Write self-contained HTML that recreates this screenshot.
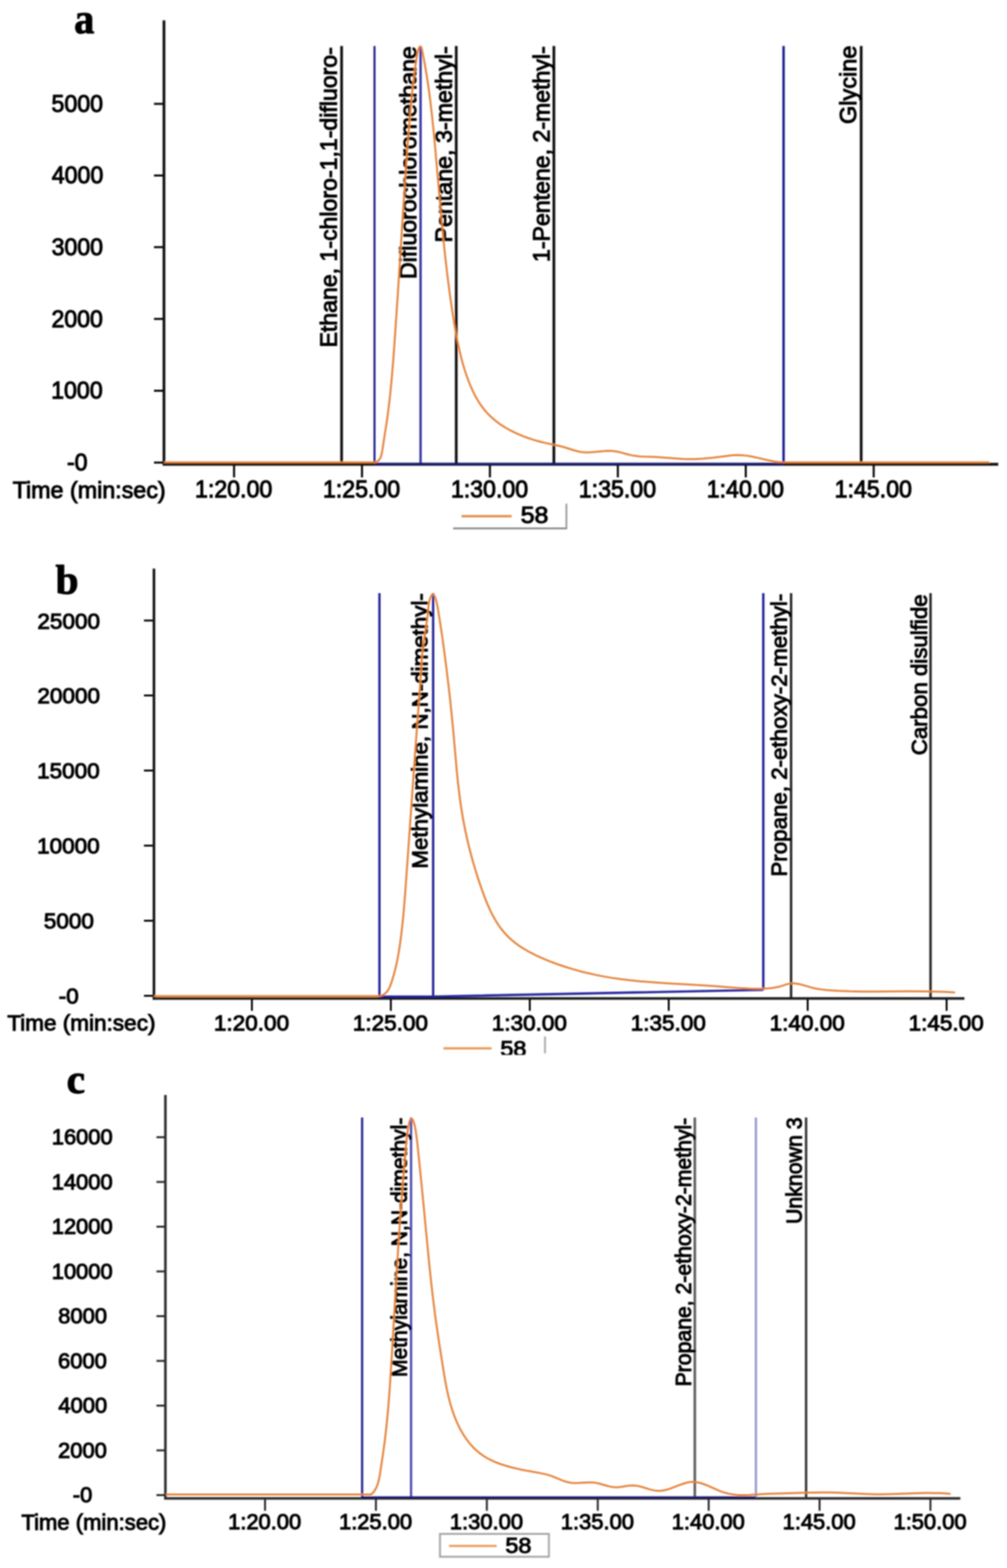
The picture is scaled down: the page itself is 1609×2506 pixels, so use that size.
<!DOCTYPE html>
<html><head><meta charset="utf-8"><title>Chromatograms</title>
<style>html,body{margin:0;padding:0;background:#fff;}svg{display:block} text{stroke:#000;stroke-width:1.5px}</style></head>
<body><svg width="1609" height="2506" viewBox="0 0 1609 2506" style="font-family:&quot;Liberation Sans&quot;,Arial,sans-serif">
<defs><clipPath id="clipb"><rect x="0" y="1600" width="1609" height="86"/></clipPath>
<filter id="soft" x="0" y="0" width="1609" height="2506" filterUnits="userSpaceOnUse"><feGaussianBlur stdDeviation="0.8"/></filter></defs>
<rect width="1609" height="2506" fill="#fff"/>
<g filter="url(#soft)">
<line x1="246" y1="166" x2="262" y2="166" stroke="#000" stroke-width="3.2" />
<text x="82.34" y="178.80" font-size="38" textLength="82.31" lengthAdjust="spacingAndGlyphs" fill="#000" >5000</text>
<line x1="246" y1="280.5" x2="262" y2="280.5" stroke="#000" stroke-width="3.2" />
<text x="82.66" y="293.30" font-size="38" textLength="82.31" lengthAdjust="spacingAndGlyphs" fill="#000" >4000</text>
<line x1="246" y1="395" x2="262" y2="395" stroke="#000" stroke-width="3.2" />
<text x="82.38" y="407.80" font-size="38" textLength="82.31" lengthAdjust="spacingAndGlyphs" fill="#000" >3000</text>
<line x1="246" y1="509.7" x2="262" y2="509.7" stroke="#000" stroke-width="3.2" />
<text x="82.15" y="522.50" font-size="38" textLength="82.31" lengthAdjust="spacingAndGlyphs" fill="#000" >2000</text>
<line x1="246" y1="624.5" x2="262" y2="624.5" stroke="#000" stroke-width="3.2" />
<text x="81.69" y="637.30" font-size="38" textLength="82.31" lengthAdjust="spacingAndGlyphs" fill="#000" >1000</text>
<line x1="246" y1="739.3" x2="262" y2="739.3" stroke="#000" stroke-width="3.2" />
<text x="106.94" y="752.10" font-size="38" textLength="32.90" lengthAdjust="spacingAndGlyphs" fill="#000" >-0</text>
<line x1="374.0" y1="742" x2="374.0" y2="763" stroke="#000" stroke-width="3.2" />
<text x="311.61" y="795.30" font-size="38" textLength="123.45" lengthAdjust="spacingAndGlyphs" fill="#000" >1:20.00</text>
<line x1="578.4" y1="742" x2="578.4" y2="763" stroke="#000" stroke-width="3.2" />
<text x="516.01" y="795.30" font-size="38" textLength="123.45" lengthAdjust="spacingAndGlyphs" fill="#000" >1:25.00</text>
<line x1="782.8" y1="742" x2="782.8" y2="763" stroke="#000" stroke-width="3.2" />
<text x="720.41" y="795.30" font-size="38" textLength="123.45" lengthAdjust="spacingAndGlyphs" fill="#000" >1:30.00</text>
<line x1="987.2" y1="742" x2="987.2" y2="763" stroke="#000" stroke-width="3.2" />
<text x="924.81" y="795.30" font-size="38" textLength="123.45" lengthAdjust="spacingAndGlyphs" fill="#000" >1:35.00</text>
<line x1="1191.6" y1="742" x2="1191.6" y2="763" stroke="#000" stroke-width="3.2" />
<text x="1129.21" y="795.30" font-size="38" textLength="123.45" lengthAdjust="spacingAndGlyphs" fill="#000" >1:40.00</text>
<line x1="1396.0" y1="742" x2="1396.0" y2="763" stroke="#000" stroke-width="3.2" />
<text x="1333.61" y="795.30" font-size="38" textLength="123.45" lengthAdjust="spacingAndGlyphs" fill="#000" >1:45.00</text>
<text x="20.16" y="796.00" font-size="37" textLength="244.55" lengthAdjust="spacingAndGlyphs" fill="#000" >Time (min:sec)</text>
<line x1="545.8" y1="73.5" x2="545.8" y2="742" stroke="#111" stroke-width="4.3" />
<line x1="729" y1="73.5" x2="729" y2="742" stroke="#111" stroke-width="4.3" />
<line x1="885" y1="73.5" x2="885" y2="742" stroke="#111" stroke-width="4.3" />
<line x1="1376" y1="73.5" x2="1376" y2="742" stroke="#111" stroke-width="4.3" />
<line x1="598.4" y1="73.5" x2="598.4" y2="742" stroke="#1e1e88" stroke-width="3.2" />
<line x1="672" y1="73.5" x2="672" y2="742" stroke="#3636a6" stroke-width="3.8" />
<line x1="1252" y1="73.5" x2="1252" y2="742" stroke="#1e1e94" stroke-width="3.9" />
<line x1="262" y1="32.5" x2="262" y2="744" stroke="#111" stroke-width="4.3" />
<line x1="260" y1="742" x2="1595" y2="742" stroke="#111" stroke-width="4.3" />
<line x1="598" y1="741.5" x2="1252" y2="741.5" stroke="#14146e" stroke-width="3.5" />
<text transform="translate(538.20,555.34) rotate(-90)" x="0" y="0" font-size="37" textLength="479.90" lengthAdjust="spacingAndGlyphs" fill="#000">Ethane, 1-chloro-1,1-difluoro-</text>
<text transform="translate(664.60,446.05) rotate(-90)" x="0" y="0" font-size="37" textLength="372.17" lengthAdjust="spacingAndGlyphs" fill="#000">Difluorochloromethane</text>
<text transform="translate(721.50,387.56) rotate(-90)" x="0" y="0" font-size="37" textLength="313.70" lengthAdjust="spacingAndGlyphs" fill="#000">Pentane, 3-methyl-</text>
<text transform="translate(878.00,418.77) rotate(-90)" x="0" y="0" font-size="37" textLength="344.86" lengthAdjust="spacingAndGlyphs" fill="#000">1-Pentene, 2-methyl-</text>
<text transform="translate(1367.80,198.28) rotate(-90)" x="0" y="0" font-size="37" textLength="125.46" lengthAdjust="spacingAndGlyphs" fill="#000">Glycine</text>
<path d="M262.00,739.00 L599.50,739.00 L601.42,738.30 L603.09,737.38 L604.54,736.25 L606.06,734.60 L607.30,732.70 L608.30,730.58 L609.10,728.30 L609.85,725.39 L610.78,720.28 L618.29,671.86 L620.74,653.66 L623.05,633.86 L624.87,615.97 L626.63,596.52 L628.36,575.04 L630.31,548.54 L635.33,474.70 L644.26,334.66 L648.01,277.63 L651.55,228.08 L654.89,186.81 L657.33,160.24 L659.58,138.21 L661.77,119.75 L664.22,102.06 L666.75,86.17 L667.97,80.35 L668.84,77.69 L669.72,75.92 L670.72,74.70 L671.34,74.31 L671.73,74.23 L672.28,74.40 L672.91,75.17 L673.45,76.45 L673.92,78.10 L676.12,88.74 L678.62,101.94 L681.08,116.17 L683.41,130.95 L685.60,146.25 L687.72,162.60 L690.59,187.43 L693.36,214.82 L695.88,242.25 L704.96,345.94 L708.15,379.27 L711.32,409.58 L715.19,442.81 L719.21,473.51 L723.58,503.16 L728.09,530.28 L730.30,542.08 L732.50,552.85 L734.81,563.10 L737.22,572.81 L739.72,581.99 L742.46,591.12 L745.30,599.72 L748.39,608.26 L751.37,615.76 L754.61,623.14 L757.90,629.92 L761.21,636.08 L764.77,642.07 L768.60,647.84 L772.41,653.00 L776.48,657.93 L781.51,663.32 L787.26,668.71 L793.37,673.75 L799.79,678.43 L806.50,682.78 L813.91,687.05 L821.56,690.96 L829.87,694.73 L836.46,697.40 L843.62,700.03 L850.84,702.42 L858.09,704.57 L864.39,706.26 L871.16,707.90 L889.34,711.70 L896.02,713.25 L902.25,714.99 L918.24,720.03 L923.14,721.31 L927.56,722.20 L930.52,722.61 L933.99,722.91 L940.94,722.98 L947.92,722.57 L961.88,721.18 L967.36,720.76 L973.31,720.57 L978.25,720.74 L982.67,721.22 L987.07,722.01 L991.94,723.15 L1003.15,726.19 L1008.03,727.40 L1012.94,728.36 L1018.37,729.10 L1022.83,729.52 L1028.30,729.85 L1046.26,730.35 L1053.24,730.68 L1083.53,733.09 L1090.49,733.51 L1096.95,733.73 L1103.43,733.78 L1109.92,733.66 L1123.40,732.96 L1131.38,732.29 L1139.35,731.45 L1161.17,728.65 L1168.58,727.84 L1176.96,727.33 L1184.34,727.40 L1192.21,728.13 L1200.57,729.50 L1208.43,731.16 L1227.11,735.55 L1236.46,737.41 L1244.35,738.51 L1248.30,738.85 L1252.00,739.00 L1581.00,739.00" fill="none" stroke="#e47f34" stroke-width="3" stroke-linejoin="round"/>
<line x1="737.5" y1="825" x2="817.5" y2="825" stroke="#e4853a" stroke-width="3.5" />
<text x="831.90" y="836.00" font-size="37" textLength="44.39" lengthAdjust="spacingAndGlyphs" fill="#000" >58</text>
<line x1="905" y1="805" x2="905" y2="846" stroke="#8c8c8c" stroke-width="2.5" />
<line x1="724" y1="844.5" x2="906" y2="844.5" stroke="#8c8c8c" stroke-width="3" />
<text transform="translate(118.5,53.4) scale(0.94,1)" x="0" y="0" font-family="&quot;Liberation Serif&quot;,serif" font-weight="bold" font-size="68.5">a</text>
<line x1="230" y1="991.75" x2="246" y2="991.75" stroke="#000" stroke-width="3" />
<text x="59.73" y="1004.50" font-size="35" textLength="100.11" lengthAdjust="spacingAndGlyphs" fill="#000" >25000</text>
<line x1="230" y1="1111.5" x2="246" y2="1111.5" stroke="#000" stroke-width="3" />
<text x="59.73" y="1124.25" font-size="35" textLength="100.11" lengthAdjust="spacingAndGlyphs" fill="#000" >20000</text>
<line x1="230" y1="1231.5" x2="246" y2="1231.5" stroke="#000" stroke-width="3" />
<text x="59.28" y="1244.25" font-size="35" textLength="100.11" lengthAdjust="spacingAndGlyphs" fill="#000" >15000</text>
<line x1="230" y1="1351.5" x2="246" y2="1351.5" stroke="#000" stroke-width="3" />
<text x="59.28" y="1364.25" font-size="35" textLength="100.11" lengthAdjust="spacingAndGlyphs" fill="#000" >10000</text>
<line x1="230" y1="1471.5" x2="246" y2="1471.5" stroke="#000" stroke-width="3" />
<text x="69.95" y="1484.25" font-size="35" textLength="80.09" lengthAdjust="spacingAndGlyphs" fill="#000" >5000</text>
<line x1="230" y1="1591.5" x2="246" y2="1591.5" stroke="#000" stroke-width="3" />
<text x="93.89" y="1604.25" font-size="35" textLength="32.01" lengthAdjust="spacingAndGlyphs" fill="#000" >-0</text>
<line x1="402.5" y1="1595.7" x2="402.5" y2="1615.5" stroke="#000" stroke-width="3" />
<text x="341.80" y="1646.50" font-size="35" textLength="120.12" lengthAdjust="spacingAndGlyphs" fill="#000" >1:20.00</text>
<line x1="624.5" y1="1595.7" x2="624.5" y2="1615.5" stroke="#000" stroke-width="3" />
<text x="563.79" y="1646.50" font-size="35" textLength="120.12" lengthAdjust="spacingAndGlyphs" fill="#000" >1:25.00</text>
<line x1="846.5" y1="1595.7" x2="846.5" y2="1615.5" stroke="#000" stroke-width="3" />
<text x="785.79" y="1646.50" font-size="35" textLength="120.12" lengthAdjust="spacingAndGlyphs" fill="#000" >1:30.00</text>
<line x1="1068.5" y1="1595.7" x2="1068.5" y2="1615.5" stroke="#000" stroke-width="3" />
<text x="1007.79" y="1646.50" font-size="35" textLength="120.12" lengthAdjust="spacingAndGlyphs" fill="#000" >1:35.00</text>
<line x1="1290.5" y1="1595.7" x2="1290.5" y2="1615.5" stroke="#000" stroke-width="3" />
<text x="1229.79" y="1646.50" font-size="35" textLength="120.12" lengthAdjust="spacingAndGlyphs" fill="#000" >1:40.00</text>
<line x1="1512.5" y1="1595.7" x2="1512.5" y2="1615.5" stroke="#000" stroke-width="3" />
<text x="1451.79" y="1646.50" font-size="35" textLength="120.12" lengthAdjust="spacingAndGlyphs" fill="#000" >1:45.00</text>
<text x="11.69" y="1647.00" font-size="35" textLength="236.70" lengthAdjust="spacingAndGlyphs" fill="#000" >Time (min:sec)</text>
<line x1="1264" y1="948" x2="1264" y2="1595.7" stroke="#262626" stroke-width="3.9" />
<line x1="1486.8" y1="948" x2="1486.8" y2="1595.7" stroke="#262626" stroke-width="3.9" />
<line x1="606.3" y1="948" x2="606.3" y2="1595.7" stroke="#181892" stroke-width="3.5" />
<line x1="692.1" y1="948" x2="692.1" y2="1595.7" stroke="#181892" stroke-width="3.5" />
<line x1="1219.6" y1="948" x2="1219.6" y2="1582" stroke="#141496" stroke-width="3.6" />
<line x1="246" y1="908.75" x2="246" y2="1597.7" stroke="#161616" stroke-width="4.2" />
<line x1="244" y1="1595.7" x2="1541" y2="1595.7" stroke="#161616" stroke-width="4" />
<path d="M606,1592.8 L692.1,1592.8 L1219.6,1582" fill="none" stroke="#24249a" stroke-width="3.6"/>
<text transform="translate(683.20,1388.24) rotate(-90)" x="0" y="0" font-size="35" textLength="440.24" lengthAdjust="spacingAndGlyphs" fill="#000">Methylamine, N,N-dimethyl-</text>
<text transform="translate(1256.50,1400.94) rotate(-90)" x="0" y="0" font-size="35" textLength="452.07" lengthAdjust="spacingAndGlyphs" fill="#000">Propane, 2-ethoxy-2-methyl-</text>
<text transform="translate(1481.00,1206.98) rotate(-90)" x="0" y="0" font-size="35" textLength="257.06" lengthAdjust="spacingAndGlyphs" fill="#000">Carbon disulfide</text>
<path d="M246.00,1592.00 L606.50,1592.00 L609.65,1591.16 L612.41,1589.93 L614.84,1588.36 L616.95,1586.48 L619.08,1583.95 L620.89,1581.13 L622.65,1577.62 L624.16,1573.90 L626.60,1566.67 L629.07,1558.42 L631.27,1550.14 L633.34,1541.34 L635.16,1532.51 L636.96,1522.67 L638.61,1512.31 L640.29,1500.44 L642.12,1485.58 L643.86,1469.19 L645.48,1451.28 L647.19,1429.86 L651.71,1367.51 L662.97,1207.40 L670.58,1104.80 L673.58,1059.18 L674.77,1044.20 L675.75,1034.81 L676.82,1026.50 L680.95,1000.16 L682.32,990.64 L683.25,982.94 L684.54,969.76 L685.43,963.61 L686.66,958.29 L687.40,956.02 L688.27,953.86 L689.26,951.95 L690.10,950.78 L690.97,950.04 L691.62,949.84 L692.47,950.10 L693.31,950.89 L694.11,952.12 L694.88,953.70 L696.60,958.57 L698.20,964.91 L699.52,971.87 L702.33,989.25 L707.02,1020.38 L710.20,1043.73 L713.82,1072.15 L716.98,1098.44 L719.76,1123.20 L723.65,1161.90 L730.07,1234.33 L731.92,1252.29 L733.83,1268.70 L736.59,1288.99 L739.72,1308.15 L743.38,1327.17 L747.58,1346.08 L751.17,1360.56 L755.21,1375.47 L759.58,1390.35 L764.29,1405.20 L769.48,1420.52 L774.36,1433.88 L778.69,1444.70 L783.20,1454.83 L787.44,1463.33 L792.07,1471.54 L796.56,1478.59 L801.44,1485.32 L806.41,1491.32 L811.42,1496.63 L817.15,1501.95 L823.63,1507.23 L830.87,1512.43 L838.88,1517.51 L847.67,1522.45 L856.73,1527.02 L866.93,1531.64 L878.24,1536.28 L890.09,1540.73 L902.46,1544.97 L914.40,1548.68 L926.87,1552.18 L939.40,1555.33 L951.98,1558.14 L964.63,1560.63 L977.83,1562.89 L991.10,1564.83 L1005.42,1566.60 L1023.80,1568.44 L1044.77,1570.10 L1065.31,1571.40 L1126.98,1574.88 L1144.45,1576.13 L1179.21,1579.00 L1188.64,1579.62 L1197.58,1580.05 L1207.52,1580.29 L1216.99,1580.23 L1225.48,1579.87 L1232.46,1579.22 L1238.41,1578.33 L1243.82,1577.18 L1247.73,1576.10 L1256.44,1573.34 L1260.29,1572.34 L1264.15,1571.73 L1268.01,1571.59 L1272.36,1571.94 L1277.70,1572.92 L1282.56,1574.18 L1296.75,1578.35 L1301.67,1579.50 L1306.60,1580.43 L1313.03,1581.38 L1319.97,1582.15 L1329.40,1582.95 L1338.86,1583.56 L1357.32,1584.32 L1377.82,1584.64 L1398.33,1584.63 L1451.30,1584.24 L1478.77,1584.38 L1503.74,1585.02 L1515.23,1585.55 L1526.10,1586.20" fill="none" stroke="#e47f34" stroke-width="3" stroke-linejoin="round"/>
<line x1="708.5" y1="1675.5" x2="785.5" y2="1675.5" stroke="#ea944f" stroke-width="3.5" />
<g clip-path="url(#clipb)">
<text x="799.50" y="1688.00" font-size="35" textLength="41.68" lengthAdjust="spacingAndGlyphs" fill="#000" >58</text>
</g>
<line x1="870.8" y1="1656.5" x2="870.8" y2="1683.5" stroke="#a8a8a8" stroke-width="3" />
<text transform="translate(88.75,949) scale(1.0,1)" x="0" y="0" font-family="&quot;Liberation Serif&quot;,serif" font-weight="bold" font-size="66">b</text>
<line x1="250" y1="2389.5" x2="265" y2="2389.5" stroke="#222" stroke-width="3" />
<text x="116.34" y="2401.00" font-size="34.5" textLength="31.12" lengthAdjust="spacingAndGlyphs" fill="#000" >-0</text>
<line x1="250" y1="2318.0" x2="265" y2="2318.0" stroke="#222" stroke-width="3" />
<text x="92.89" y="2329.50" font-size="34.5" textLength="77.86" lengthAdjust="spacingAndGlyphs" fill="#000" >2000</text>
<line x1="250" y1="2246.5" x2="265" y2="2246.5" stroke="#222" stroke-width="3" />
<text x="93.37" y="2258.00" font-size="34.5" textLength="77.86" lengthAdjust="spacingAndGlyphs" fill="#000" >4000</text>
<line x1="250" y1="2175.0" x2="265" y2="2175.0" stroke="#222" stroke-width="3" />
<text x="92.89" y="2186.50" font-size="34.5" textLength="77.86" lengthAdjust="spacingAndGlyphs" fill="#000" >6000</text>
<line x1="250" y1="2103.5" x2="265" y2="2103.5" stroke="#222" stroke-width="3" />
<text x="93.02" y="2115.00" font-size="34.5" textLength="77.86" lengthAdjust="spacingAndGlyphs" fill="#000" >8000</text>
<line x1="250" y1="2032.0" x2="265" y2="2032.0" stroke="#222" stroke-width="3" />
<text x="82.69" y="2043.50" font-size="34.5" textLength="97.33" lengthAdjust="spacingAndGlyphs" fill="#000" >10000</text>
<line x1="250" y1="1960.5" x2="265" y2="1960.5" stroke="#222" stroke-width="3" />
<text x="82.69" y="1972.00" font-size="34.5" textLength="97.33" lengthAdjust="spacingAndGlyphs" fill="#000" >12000</text>
<line x1="250" y1="1889.0" x2="265" y2="1889.0" stroke="#222" stroke-width="3" />
<text x="82.69" y="1900.50" font-size="34.5" textLength="97.33" lengthAdjust="spacingAndGlyphs" fill="#000" >14000</text>
<line x1="250" y1="1817.5" x2="265" y2="1817.5" stroke="#222" stroke-width="3" />
<text x="82.69" y="1829.00" font-size="34.5" textLength="97.33" lengthAdjust="spacingAndGlyphs" fill="#000" >16000</text>
<line x1="423.5" y1="2394.8" x2="423.5" y2="2414.5" stroke="#222" stroke-width="3" />
<text x="364.48" y="2444.00" font-size="34.5" textLength="116.78" lengthAdjust="spacingAndGlyphs" fill="#000" >1:20.00</text>
<line x1="600.7" y1="2394.8" x2="600.7" y2="2414.5" stroke="#222" stroke-width="3" />
<text x="541.68" y="2444.00" font-size="34.5" textLength="116.78" lengthAdjust="spacingAndGlyphs" fill="#000" >1:25.00</text>
<line x1="777.9" y1="2394.8" x2="777.9" y2="2414.5" stroke="#222" stroke-width="3" />
<text x="718.88" y="2444.00" font-size="34.5" textLength="116.78" lengthAdjust="spacingAndGlyphs" fill="#000" >1:30.00</text>
<line x1="955.0999999999999" y1="2394.8" x2="955.0999999999999" y2="2414.5" stroke="#222" stroke-width="3" />
<text x="896.08" y="2444.00" font-size="34.5" textLength="116.78" lengthAdjust="spacingAndGlyphs" fill="#000" >1:35.00</text>
<line x1="1132.3" y1="2394.8" x2="1132.3" y2="2414.5" stroke="#222" stroke-width="3" />
<text x="1073.28" y="2444.00" font-size="34.5" textLength="116.78" lengthAdjust="spacingAndGlyphs" fill="#000" >1:40.00</text>
<line x1="1309.5" y1="2394.8" x2="1309.5" y2="2414.5" stroke="#222" stroke-width="3" />
<text x="1250.48" y="2444.00" font-size="34.5" textLength="116.78" lengthAdjust="spacingAndGlyphs" fill="#000" >1:45.00</text>
<line x1="1486.6999999999998" y1="2394.8" x2="1486.6999999999998" y2="2414.5" stroke="#222" stroke-width="3" />
<text x="1427.68" y="2444.00" font-size="34.5" textLength="116.78" lengthAdjust="spacingAndGlyphs" fill="#000" >1:50.00</text>
<text x="34.21" y="2445.00" font-size="34.5" textLength="231.63" lengthAdjust="spacingAndGlyphs" fill="#000" >Time (min:sec)</text>
<line x1="1110.2" y1="1786" x2="1110.2" y2="2394.8" stroke="#5e5c5c" stroke-width="4" />
<line x1="1288" y1="1786" x2="1288" y2="2394.8" stroke="#3e3e3e" stroke-width="4" />
<line x1="578.6" y1="1786" x2="578.6" y2="2394.8" stroke="#1a1a92" stroke-width="3.4" />
<line x1="656.8" y1="1786" x2="656.8" y2="2394.8" stroke="#4848b4" stroke-width="3.6" />
<line x1="1207.8" y1="1786" x2="1207.8" y2="2394.8" stroke="#9898d0" stroke-width="3.6" />
<line x1="264.3" y1="1750" x2="264.3" y2="2396.3" stroke="#2a2a2a" stroke-width="4" />
<line x1="262.3" y1="2394.8" x2="1534.5" y2="2394.8" stroke="#2a2a2a" stroke-width="4" />
<line x1="578.5" y1="2393" x2="1207" y2="2393" stroke="#14146e" stroke-width="3.2" />
<text transform="translate(650.00,2200.77) rotate(-90)" x="0" y="0" font-size="34.5" textLength="414.37" lengthAdjust="spacingAndGlyphs" fill="#000">Methylamine, N,N-dimethyl-</text>
<text transform="translate(1104.00,2215.80) rotate(-90)" x="0" y="0" font-size="34.5" textLength="429.44" lengthAdjust="spacingAndGlyphs" fill="#000">Propane, 2-ethoxy-2-methyl-</text>
<text transform="translate(1281.00,1956.24) rotate(-90)" x="0" y="0" font-size="34.5" textLength="170.51" lengthAdjust="spacingAndGlyphs" fill="#000">Unknown 3</text>
<path d="M265.00,2388.60 L593.00,2388.60 L595.13,2386.59 L597.31,2384.05 L598.95,2381.72 L600.61,2378.83 L602.02,2375.78 L603.23,2372.61 L604.39,2368.84 L605.36,2364.95 L606.37,2359.99 L607.39,2353.94 L611.88,2324.47 L614.81,2302.73 L617.28,2281.46 L618.89,2265.58 L620.41,2248.67 L621.87,2230.22 L623.29,2210.25 L626.05,2166.27 L633.00,2047.05 L636.27,1993.69 L640.01,1938.28 L643.79,1888.78 L648.78,1830.52 L649.81,1820.14 L650.95,1810.82 L652.46,1800.97 L653.20,1797.22 L654.07,1793.68 L654.92,1790.98 L655.70,1789.19 L656.54,1788.02 L657.07,1787.69 L657.43,1787.65 L657.99,1787.87 L658.56,1788.38 L659.69,1790.14 L660.94,1793.08 L662.02,1796.54 L662.92,1800.22 L663.76,1804.57 L665.68,1817.31 L667.12,1829.79 L674.30,1900.41 L685.87,2020.49 L688.97,2049.80 L691.99,2076.09 L696.37,2110.24 L701.56,2145.80 L709.71,2197.24 L712.06,2210.58 L714.30,2221.89 L716.49,2231.66 L718.70,2240.38 L721.04,2248.54 L723.64,2256.62 L726.37,2264.14 L729.40,2271.56 L732.74,2278.84 L736.17,2285.51 L739.90,2291.98 L743.67,2297.81 L747.72,2303.42 L751.75,2308.39 L756.05,2313.11 L760.62,2317.56 L765.48,2321.72 L770.62,2325.56 L774.36,2328.02 L778.23,2330.32 L782.23,2332.47 L786.33,2334.47 L790.53,2336.33 L795.28,2338.24 L800.11,2340.01 L805.48,2341.79 L816.81,2345.03 L829.99,2348.16 L843.38,2350.85 L864.75,2354.64 L873.58,2356.64 L877.93,2357.90 L882.23,2359.40 L896.26,2365.17 L900.93,2366.95 L905.17,2368.32 L908.99,2369.26 L913.85,2369.99 L919.29,2370.26 L924.82,2370.12 L940.09,2369.23 L945.16,2369.24 L949.18,2369.52 L953.16,2370.11 L957.11,2370.98 L970.24,2374.75 L974.61,2375.85 L978.50,2376.58 L982.41,2376.98 L985.85,2376.99 L989.81,2376.68 L1002.27,2374.77 L1006.75,2374.24 L1010.72,2374.06 L1014.18,2374.22 L1018.61,2374.84 L1023.02,2375.81 L1027.41,2377.01 L1037.59,2380.09 L1042.43,2381.36 L1046.30,2382.14 L1050.17,2382.61 L1053.08,2382.72 L1056.47,2382.55 L1059.87,2382.09 L1063.76,2381.26 L1067.64,2380.16 L1071.52,2378.86 L1087.49,2372.71 L1094.22,2370.46 L1098.04,2369.47 L1101.37,2368.84 L1104.69,2368.48 L1107.52,2368.40 L1111.29,2368.64 L1115.03,2369.21 L1119.24,2370.20 L1123.43,2371.50 L1131.34,2374.57 L1144.89,2380.61 L1150.08,2382.79 L1154.82,2384.58 L1159.60,2386.08 L1164.91,2387.38 L1170.26,2388.33 L1175.64,2388.98 L1181.55,2389.39 L1188.99,2389.54 L1196.96,2389.35 L1225.02,2387.60 L1241.52,2386.90 L1292.92,2385.56 L1311.90,2385.26 L1324.38,2385.31 L1335.86,2385.58 L1379.30,2387.62 L1397.79,2388.13 L1408.28,2388.14 L1419.78,2387.94 L1463.27,2386.46 L1481.75,2386.11 L1491.73,2386.13 L1501.21,2386.35 L1510.18,2386.77 L1518.80,2387.40" fill="none" stroke="#e47f34" stroke-width="3" stroke-linejoin="round"/>
<rect x="703" y="2451.5" width="174" height="36.5" fill="none" stroke="#a4a4a4" stroke-width="3"/>
<line x1="717.5" y1="2470.7" x2="793.5" y2="2470.7" stroke="#eb9b5c" stroke-width="3.5" />
<text x="807.50" y="2481.50" font-size="34.5" textLength="41.68" lengthAdjust="spacingAndGlyphs" fill="#000" >58</text>
<text transform="translate(106.5,1747) scale(1.0,1)" x="0" y="0" font-family="&quot;Liberation Serif&quot;,serif" font-weight="bold" font-size="66">c</text>
</g>
</svg></body></html>
